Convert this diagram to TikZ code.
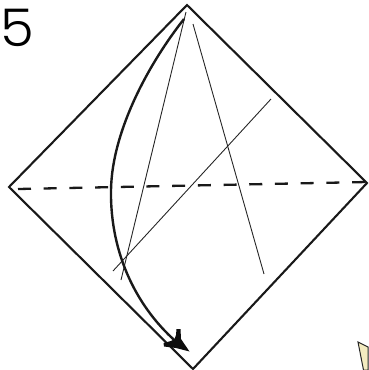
\documentclass[tikz,border=0pt]{standalone}
\usepackage{fontspec}
\setmainfont{Poppins Light}
\tikzset{
  outline/.style={line width=2.1pt,draw=black!90,line join=miter},
  thin line/.style={line width=0.9pt,draw=black!85},
  fold/.style={line width=2.3pt,draw=black!90,dash pattern=on 13pt off 12.7pt},
  curve/.style={line width=2.4pt,draw=black!90},
}
\begin{document}
\begin{tikzpicture}[x=1pt,y=-1pt]
\useasboundingbox (0,0) rectangle (368,370);
\coordinate (T) at (187,5);
\coordinate (L) at (9,187);
\coordinate (R) at (367,183);
\coordinate (B) at (193,369);
\fill[fill=black!13!yellow!20!white!90!brown,draw=black!85,line width=1pt] (358,342) -- (368,347) -- (368,370) -- (363.5,370) -- cycle;
\draw[outline] (T) -- (L) -- (B) -- (R) -- cycle;
\draw[fold] (18,189) -- (367,182);
\draw[thin line] (186,12) -- (121,280);
\draw[thin line] (193,24) -- (264,274);
\draw[thin line] (271,99) -- (113,271);
\draw[curve] (184,19) .. controls (150,62) and (112,130) .. (111,190) .. controls (110,255) and (138,310) .. (180,345);
\fill[black!95] (189.5,351.5) -- (176,348) -- (164,346.5) -- (163.5,343) -- (171,341) .. controls (174.5,339.5) and (175.8,338) .. (176,335) -- (176.5,329) -- (180.5,329) -- (181,339) -- cycle;
\node[inner sep=0pt,anchor=center,xscale=1.05] (num) at (17.5,27.5) {\fontsize{52}{52}\selectfont 5};
\end{tikzpicture}
\end{document}
